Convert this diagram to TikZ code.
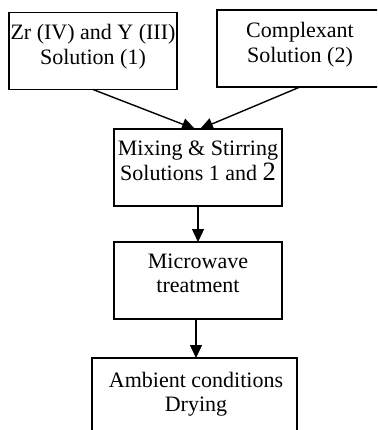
\documentclass[tikz,border=0pt]{standalone}
\usepackage{fontspec}
\setmainfont{Liberation Serif}
\usetikzlibrary{arrows.meta,calc}
\begin{document}
\begin{tikzpicture}[x=1pt,y=-1pt,
  box/.style={draw, line width=1.3pt, inner sep=0pt, outer sep=0pt, minimum height=77pt},
  txt/.style={anchor=base, inner sep=0pt, font=\fontsize{22}{24.5}\selectfont},
  arr/.style={line width=1.4pt, -{Triangle[length=13pt,width=12pt]}}]
\useasboundingbox (0,0) rectangle (377,430);
\clip (0,0) rectangle (377,430);
% boxes
\node[box, minimum width=168pt] (b1) at (93,51) {};
\node[box, minimum width=166pt] (b2) at (300,48.5) {};
\node[box, minimum width=168pt] (b3) at (198,167.5) {};
\node[box, minimum width=168pt] (b4) at (198,280.5) {};
\node[box, minimum width=205pt] (b5) at (194.5,396.5) {};
% texts
\node[txt] (t1) at (93,40) {\begin{tabular}[t]{@{}c@{}}Zr (IV) and Y (III)\\Solution (1)\end{tabular}};
\node[txt] (t2) at (300,38) {\begin{tabular}[t]{@{}c@{}}Complexant\\Solution (2)\end{tabular}};
\node[txt] (t3) at (198,156) {\begin{tabular}[t]{@{}c@{}}Mixing \& Stirring\\Solutions 1 and {\fontsize{26.5}{24.5}\selectfont 2}\end{tabular}};
\node[txt] (t4) at (198,268) {\begin{tabular}[t]{@{}c@{}}Microwave\\treatment\end{tabular}};
\node[txt] (t5) at (196,387) {\begin{tabular}[t]{@{}c@{}}Ambient conditions\\Drying\end{tabular}};
% connectors
\coordinate (in1) at ($(b3.north)+(-3,0)$);
\coordinate (in2) at ($(b3.north)+(2,0)$);
\draw[arr] (b1.south) -- (in1);
\draw[arr] (b2.south) -- (in2);
\draw[arr] (b3.south) -- (b4.north);
\draw[arr] ($(b4.south)+(-2,0)$) coordinate (o4) -- (o4 |- b5.north);
\end{tikzpicture}
\end{document}
